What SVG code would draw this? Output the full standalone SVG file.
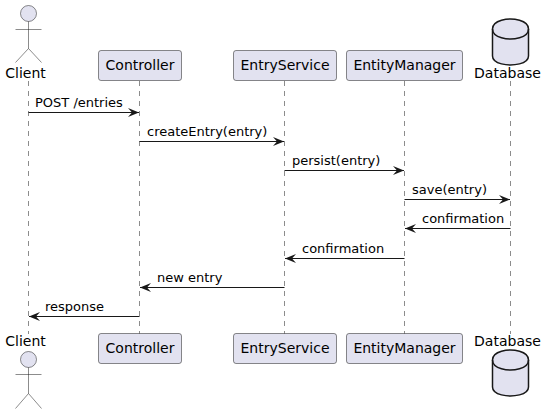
<svg xmlns="http://www.w3.org/2000/svg" width="547" height="414" viewBox="0 0 547 414">
<defs>
<style>
text{font-family:"DejaVu Sans",sans-serif;font-size:13px;fill:#000}
.t{text-anchor:middle;font-size:14px}
.life{stroke:#181818;stroke-width:.5;stroke-dasharray:5 5;fill:none}
.msg{stroke:#181818;stroke-width:1;fill:none}
.box{fill:#E2E2F0;stroke:#181818;stroke-width:.5}
.act{fill:#E2E2F0;stroke:#181818;stroke-width:.5}
.actl{fill:none;stroke:#181818;stroke-width:.5}
.db{fill:#E2E2F0;stroke:#181818;stroke-width:1.5}
.dbl{fill:none;stroke:#181818;stroke-width:1.5}
.h{fill:#181818}
</style>
<marker id="ah" markerUnits="userSpaceOnUse" markerWidth="13" markerHeight="10" refX="12" refY="5" orient="auto-start-reverse">
<path d="M1 .5L12 5L1 9.500L5 5Z" class="h"/>
</marker>
</defs>
<g id="connectors">
<path class="life" d="M28.500 81V334M139.500 81V334M284.500 81V334M404.500 81V334M510.500 81V334"/>
<g id="messages">
<path class="msg" marker-end="url(#ah)" d="M28.500 112.500H139"/>
<text x="35" y="107">POST /entries</text>
<path class="msg" marker-end="url(#ah)" d="M139.500 141.500H284"/>
<text x="147" y="136">createEntry(entry)</text>
<path class="msg" marker-end="url(#ah)" d="M284.500 170.500H404"/>
<text x="292" y="165">persist(entry)</text>
<path class="msg" marker-end="url(#ah)" d="M404.500 199.500H510"/>
<text x="412" y="194">save(entry)</text>
<path class="msg" marker-end="url(#ah)" d="M510.500 228.500H405"/>
<text x="422" y="223">confirmation</text>
<path class="msg" marker-end="url(#ah)" d="M404.500 258.500H285"/>
<text x="302" y="253">confirmation</text>
<path class="msg" marker-end="url(#ah)" d="M284.500 287.500H140"/>
<text x="157" y="282">new entry</text>
<path class="msg" marker-end="url(#ah)" d="M139.500 316.500H29"/>
<text x="45" y="311">response</text>
</g>
</g>
<g id="client-top">
<circle class="act" cx="28.500" cy="13.500" r="8"/>
<path class="actl" d="M28.500 21.500V48.500M15.500 29.500H41.500M28.500 48.500L15.500 62.500M28.500 48.500L41.500 62.500"/>
<text class="t" x="25.500" y="78">Client</text>
</g>
<g id="client-bottom">
<text class="t" x="25.500" y="346">Client</text>
<circle class="act" cx="28.500" cy="359.500" r="8"/>
<path class="actl" d="M28.500 367.500V393.500M15.500 374.500H41.500M28.500 393.500L15.500 408.500M28.500 393.500L41.500 408.500"/>
</g>
<g id="controller-top"><rect class="box" x="98.500" y="50.500" width="83" height="30" rx="2.500"/><text class="t" x="140" y="70">Controller</text></g>
<g id="controller-bottom"><rect class="box" x="98.500" y="333.500" width="83" height="30" rx="2.500"/><text class="t" x="140" y="353">Controller</text></g>
<g id="entryservice-top"><rect class="box" x="233.500" y="50.500" width="103" height="30" rx="2.500"/><text class="t" x="285" y="70">EntryService</text></g>
<g id="entryservice-bottom"><rect class="box" x="233.500" y="333.500" width="103" height="30" rx="2.500"/><text class="t" x="285" y="353">EntryService</text></g>
<g id="entitymanager-top"><rect class="box" x="346.500" y="50.500" width="116" height="30" rx="2.500"/><text class="t" x="404.500" y="70">EntityManager</text></g>
<g id="entitymanager-bottom"><rect class="box" x="346.500" y="333.500" width="116" height="30" rx="2.500"/><text class="t" x="404.500" y="353">EntityManager</text></g>
<g id="database-top">
<path class="db" d="M492.500 29C492.500 19 510.500 19 510.500 19C510.500 19 528.500 19 528.500 29V56C528.500 65 510.500 65 510.500 65C510.500 65 492.500 65 492.500 56Z"/>
<path class="dbl" d="M492.500 29C492.500 39 510.500 39 510.500 39C510.500 39 528.500 39 528.500 29"/>
<text class="t" x="507.500" y="78">Database</text>
</g>
<g id="database-bottom">
<text class="t" x="507.500" y="346">Database</text>
<path class="db" d="M492.500 360C492.500 350 510.500 350 510.500 350C510.500 350 528.500 350 528.500 360V387C528.500 396 510.500 396 510.500 396C510.500 396 492.500 396 492.500 387Z"/>
<path class="dbl" d="M492.500 360C492.500 370 510.500 370 510.500 370C510.500 370 528.500 370 528.500 360"/>
</g>
</svg>
